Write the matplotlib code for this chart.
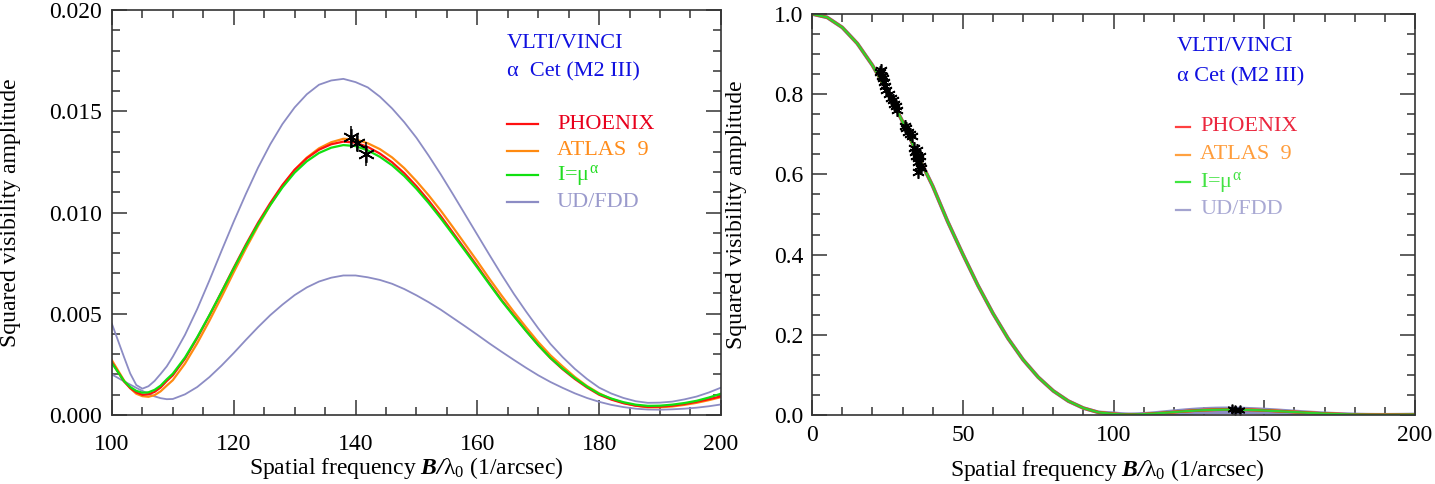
import numpy as np
import matplotlib
matplotlib.use("Agg")
import matplotlib.pyplot as plt
from matplotlib.ticker import MultipleLocator, FormatStrFormatter

plt.rcParams['font.family'] = ['Liberation Serif', 'DejaVu Serif']
plt.rcParams['mathtext.fontset'] = 'custom'
plt.rcParams['mathtext.rm'] = 'Liberation Serif'
plt.rcParams['mathtext.it'] = 'Liberation Serif:italic'
plt.rcParams['mathtext.bf'] = 'Liberation Serif:bold'
plt.rcParams['mathtext.bfit'] = 'Liberation Serif:bold:italic'

# ---------------- data ----------------
# second-lobe zoom (left panel)
freq = [100, 102, 103, 104, 105, 106, 107, 108, 109, 110, 112, 114, 116, 118, 120, 122, 124, 126, 128,
        130, 132, 134, 136, 138, 140, 142, 144, 146, 148, 150, 152, 154, 156, 158,
        160, 162, 164, 166, 168, 170, 172, 174, 176, 178, 180, 182, 184, 186, 188,
        190, 192, 194, 196, 198, 200]
phoenix = [.00260, .00165, .00133, .00112, .00100, .00102, .00114, .00136, .00168, .00196, .00278, .00380, .00491, .00608,
           .00727, .00842, .00950, .01047, .01136, .01211, .01268, .01310, .01337, .01350,
           .01345, .01324, .01291, .01248, .01194, .01130, .01059, .00982, .00900, .00818,
           .00735, .00650, .00567, .00491, .00416, .00345, .00281, .00226, .00178, .00136,
           .00100, .00076, .00058, .00046, .00040, .00041, .00046, .00054, .00065, .00078, .00092]
atlas9 = [.00270, .00170, .00132, .00105, .00093, .00090, .00098, .00117, .00145, .00172, .00254, .00354, .00465, .00583,
          .00705, .00823, .00934, .01037, .01130, .01210, .01271, .01317, .01347, .01364,
          .01361, .01342, .01313, .01272, .01219, .01155, .01085, .01009, .00927, .00843,
          .00759, .00672, .00589, .00509, .00433, .00360, .00295, .00240, .00188, .00143,
          .00107, .00079, .00060, .00046, .00038, .00038, .00042, .00050, .00060, .00073, .00088]
powerlaw = [.00256, .00167, .00138, .00119, .00110, .00112, .00124, .00145, .00176, .00204, .00284, .00384, .00493, .00607,
            .00723, .00836, .00942, .01037, .01124, .01197, .01253, .01294, .01320, .01333,
            .01328, .01307, .01275, .01233, .01180, .01117, .01047, .00971, .00891, .00810,
            .00728, .00645, .00563, .00488, .00415, .00345, .00282, .00229, .00182, .00140,
            .00104, .00081, .00063, .00051, .00045, .00046, .00051, .00059, .00070, .00086, .00105]
ud = [.00450, .00285, .00205, .00148, .00130, .00142, .00168, .00203, .00240, .00288, .00396, .00523, .00664, .00811,
      .00955, .01092, .01222, .01337, .01437, .01519, .01584, .01631, .01652, .01660,
      .01644, .01618, .01572, .01514, .01446, .01369, .01281, .01188, .01090, .00990,
      .00890, .00790, .00692, .00598, .00511, .00428, .00351, .00286, .00228, .00178,
      .00135, .00106, .00084, .00068, .00060, .00061, .00066, .00077, .00091, .00111, .00135]
fdd = [.00200, .00166, .00150, .00134, .00119, .00104, .00092, .00083, .00078, .00079, .00102, .00138, .00187, .00244,
       .00306, .00371, .00434, .00493, .00545, .00592, .00630, .00659, .00678, .00689,
       .00689, .00680, .00667, .00648, .00622, .00591, .00557, .00520, .00479, .00438,
       .00396, .00353, .00312, .00272, .00233, .00196, .00163, .00134, .00107, .00084,
       .00065, .00050, .00039, .00031, .00027, .00026, .00028, .00031, .00036, .00043, .00052]

# first lobe (right panel, all models coincide)
lobe1_freq = [0, 5, 10, 15, 20, 25, 30, 35, 40, 45, 50, 55, 60, 65, 70, 75, 80, 85, 90, 95]
lobe1_v2 = [1.0, .9916, .9666, .9265, .8723, .8066, .7318, .6482, .5711, .482,
            .401, .3234, .2534, .191, .1377, .0943, .0601, .0347, .0172, .00645]

# VINCI measurements
obs2_freq = [139.2, 140.3, 141.8]
obs2_v2 = [0.01372, 0.01342, 0.01290]
obs2_err = [0.00055, 0.00040, 0.00060]
obs1_freq = [22.6, 23.0, 23.3, 23.6, 23.9, 24.2, 24.5, 25.6, 26.2, 26.8, 27.3, 27.8, 28.3,
             30.8, 31.3, 31.8, 32.4, 33.0, 33.9, 34.3, 34.6, 35.0, 35.3, 35.7, 36.0, 35.2, 34.8, 35.9]
obs1_v2 = [0.855, 0.86, 0.845, 0.84, 0.83, 0.82, 0.81, 0.80, 0.79, 0.785, 0.775, 0.77, 0.76,
           0.72, 0.715, 0.705, 0.70, 0.695, 0.665, 0.655, 0.645, 0.64, 0.63, 0.62, 0.615, 0.605, 0.66, 0.645]

models = [("PHOENIX", phoenix, "#ff1010", "#e8001c"),
          ("ATLAS  9", atlas9, "#ff8a10", "#ff8c1a"),
          (r"I=μ$^{\mathrm{\alpha}}$", powerlaw, "#10e010", "#22dd22")]
ud_color = "#8c8cc4"
title_color = "#1010e0"
xlab = r"Spatial frequency $\mathbfit{B/}\mathrm{\lambda}_{0}$ (1/arcsec)"

# ---------------- figure ----------------
fig = plt.figure(figsize=(14.35, 4.84), dpi=100)
axL = fig.add_axes([0.0780, 0.1426, 0.4244, 0.8367])
axR = fig.add_axes([0.5659, 0.1426, 0.4202, 0.8285])

frame = "#333333"
for ax in (axL, axR):
    for s in ax.spines.values():
        s.set_color(frame)
        s.set_linewidth(1.2)
    ax.tick_params(which='both', direction='in', top=True, right=True, colors=frame,
                   labelcolor='black', labelsize=17, width=1.1)
    ax.tick_params(which='major', length=11)
    ax.tick_params(which='minor', length=6)

# left panel
axL.plot(freq, ud, color=ud_color, lw=1.3)
axL.plot(freq, fdd, color=ud_color, lw=1.3)
axL.plot(freq, atlas9, color="#ff8a10", lw=1.6)
axL.plot(freq, phoenix, color="#ff1010", lw=1.6)
axL.plot(freq, powerlaw, color="#10e010", lw=1.6)
axL.errorbar(obs2_freq, obs2_v2, yerr=obs2_err, fmt='none', ecolor='black', elinewidth=1.1, capsize=0)
axL.plot(obs2_freq, obs2_v2, ls='none', marker=(6, 2, 0), ms=12, mec='black', mew=1.2)
axL.set_xlim(100, 200)
axL.set_ylim(0, 0.020)
axL.xaxis.set_major_locator(MultipleLocator(20))
axL.xaxis.set_minor_locator(MultipleLocator(5))
axL.yaxis.set_major_locator(MultipleLocator(0.005))
axL.yaxis.set_minor_locator(MultipleLocator(0.001))
axL.yaxis.set_major_formatter(FormatStrFormatter('%.3f'))
axL.tick_params(axis='x', which='major', pad=14)
axL.tick_params(axis='y', which='major', pad=7)
axL.set_xlabel(xlab, fontsize=17)
axL.set_ylabel("Squared visibility amplitude", fontsize=17)
axL.xaxis.set_label_coords(0.484, -0.100)
axL.yaxis.set_label_coords(-0.150, 0.5)

tL = axL.transAxes
axL.text(0.6486, 0.9185, "VLTI/VINCI", color=title_color, fontsize=16, transform=tL, va='center')
axL.text(0.6486, 0.8469, "α  Cet (M2 III)", color=title_color, fontsize=16, transform=tL, va='center')
rows = [0.7185, 0.6519, 0.5926, 0.5259]
entries = [(m[0], m[2], m[3]) for m in models] + [("UD/FDD", ud_color, "#9a9acc")]
for (lab, lc, tc), yy in zip(entries, rows):
    axL.plot([0.6486, 0.6995], [yy, yy], color=lc, lw=1.6, transform=tL)
    axL.text(0.7307, yy, lab, color=tc, fontsize=16, transform=tL, va='center')

# right panel
full_freq = lobe1_freq + freq
axR.plot(full_freq, lobe1_v2 + ud, color=ud_color, lw=2.6)
axR.plot(full_freq, lobe1_v2 + fdd, color=ud_color, lw=2.6)
axR.plot(full_freq, lobe1_v2 + atlas9, color="#ff8a10", lw=2.0)
axR.plot(full_freq, lobe1_v2 + phoenix, color="#ff1010", lw=2.0)
axR.plot(full_freq, lobe1_v2 + powerlaw, color="#30d030", lw=1.7)
axR.plot(obs1_freq, obs1_v2, ls='none', marker=(6, 2, 0), ms=9, mec='black', mew=1.2)
axR.plot(obs2_freq, obs2_v2, ls='none', marker=(6, 2, 0), ms=7, mec='black', mew=1.2)
axR.set_xlim(0, 200)
axR.set_ylim(0, 1.0)
axR.xaxis.set_major_locator(MultipleLocator(50))
axR.xaxis.set_minor_locator(MultipleLocator(10))
axR.yaxis.set_major_locator(MultipleLocator(0.2))
axR.yaxis.set_minor_locator(MultipleLocator(0.05))
axR.yaxis.set_major_formatter(FormatStrFormatter('%.1f'))
axR.tick_params(axis='x', which='major', pad=7)
axR.tick_params(axis='y', which='major', pad=6)
axR.set_xlabel(xlab, fontsize=17)
axR.set_ylabel("Squared visibility amplitude", fontsize=17)
axR.xaxis.set_label_coords(0.49, -0.105)
axR.yaxis.set_label_coords(-0.108, 0.5)

tR = axR.transAxes
axR.text(0.6053, 0.9177, "VLTI/VINCI", color=title_color, fontsize=16, transform=tR, va='center')
axR.text(0.6053, 0.8429, "α Cet (M2 III)", color=title_color, fontsize=16, transform=tR, va='center')
rowsR = [0.7182, 0.6484, 0.5810, 0.5112]
for (lab, lc, tc), yy in zip(entries, rowsR):
    axR.plot([0.6036, 0.6269], [yy, yy], color=lc, lw=1.6, alpha=0.8, transform=tR)
    axR.text(0.6434, yy, lab, color=tc, fontsize=16, alpha=0.85, transform=tR, va='center')

fig.savefig("out.png", dpi=100)
